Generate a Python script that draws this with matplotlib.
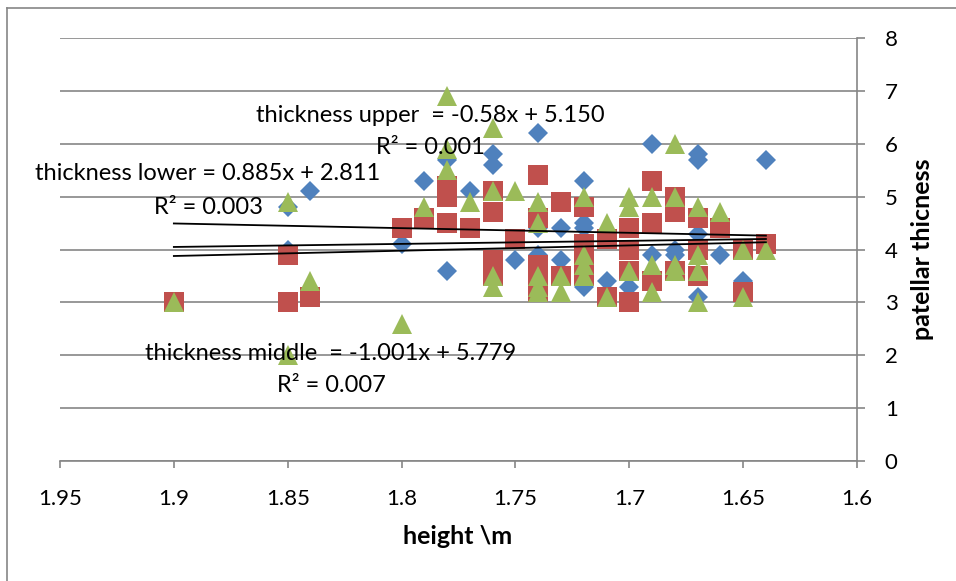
import matplotlib
matplotlib.use("Agg")
from matplotlib import pyplot as plt
from matplotlib.lines import Line2D
import numpy as np

plt.rcParams['font.family'] = ['Lato', 'DejaVu Sans']

# blue diamonds
blue_x = [1.9, 1.85, 1.85, 1.84, 1.8, 1.79, 1.78, 1.78, 1.77, 1.76, 1.76, 1.75,
          1.74, 1.74, 1.74, 1.73, 1.73, 1.72, 1.72, 1.72, 1.72, 1.71, 1.7,
          1.69, 1.69, 1.68, 1.68, 1.67, 1.67, 1.67, 1.67, 1.66, 1.65, 1.64]
blue_y = [3.0, 4.8, 4.0, 5.1, 4.1, 5.3, 5.7, 3.6, 5.1, 5.8, 5.6, 3.8,
          6.2, 4.4, 3.9, 4.4, 3.8, 5.3, 4.5, 4.4, 3.3, 3.4, 3.3,
          6.0, 3.9, 4.0, 3.9, 5.8, 5.7, 4.3, 3.1, 3.9, 3.4, 5.7]

# red squares
red_x = [1.9, 1.85, 1.85, 1.84, 1.8, 1.79, 1.78, 1.78, 1.78, 1.77,
         1.76, 1.76, 1.76, 1.76, 1.75, 1.74, 1.74, 1.74, 1.74, 1.74,
         1.73, 1.73, 1.72, 1.72, 1.72, 1.72, 1.71, 1.71,
         1.7, 1.7, 1.7, 1.7, 1.69, 1.69, 1.69, 1.68, 1.68, 1.68,
         1.67, 1.67, 1.67, 1.66, 1.65, 1.65, 1.64]
red_y = [3.0, 3.9, 3.0, 3.1, 4.4, 4.6, 5.2, 5.0, 4.5, 4.4,
         5.1, 4.7, 3.8, 3.5, 4.2, 5.4, 4.6, 3.7, 3.5, 3.2,
         4.9, 3.5, 4.8, 4.1, 3.8, 3.5, 4.2, 3.1,
         4.4, 4.0, 3.6, 3.0, 5.3, 4.5, 3.4, 5.0, 4.7, 3.6,
         4.6, 4.0, 3.5, 4.4, 4.0, 3.2, 4.1]

# green triangles
green_x = [1.9, 1.85, 1.85, 1.84, 1.8, 1.79, 1.78, 1.78, 1.78, 1.77,
           1.76, 1.76, 1.76, 1.76, 1.75, 1.74, 1.74, 1.74, 1.74, 1.74,
           1.73, 1.73, 1.72, 1.72, 1.72, 1.72, 1.71, 1.71,
           1.7, 1.7, 1.7, 1.69, 1.69, 1.69, 1.68, 1.68, 1.68, 1.68,
           1.67, 1.67, 1.67, 1.67, 1.66, 1.65, 1.65, 1.64]
green_y = [3.0, 4.9, 2.0, 3.4, 2.6, 4.8, 6.9, 5.9, 5.5, 4.9,
           6.3, 5.1, 3.5, 3.3, 5.1, 4.9, 4.5, 3.5, 3.3, 3.2,
           3.5, 3.2, 5.0, 3.9, 3.7, 3.5, 4.5, 3.1,
           5.0, 4.8, 3.6, 5.0, 3.7, 3.2, 6.0, 5.0, 3.7, 3.6,
           4.8, 3.9, 3.6, 3.0, 4.7, 4.0, 3.1, 4.0]

# trendlines (slope, intercept, r2) as labelled in the chart
trend_names = ["thickness upper ", "thickness lower", "thickness middle "]
trend_slope = [-0.58, 0.885, -1.001]
trend_icept = [5.150, 2.811, 5.779]
trend_r2 = ["0.001", "0.003", "0.007"]
trend_range = [1.9, 1.64]

x_ticks = [1.95, 1.9, 1.85, 1.8, 1.75, 1.7, 1.65, 1.6]
x_labels = ["1.95", "1.9", "1.85", "1.8", "1.75", "1.7", "1.65", "1.6"]
y_ticks = [0, 1, 2, 3, 4, 5, 6, 7, 8]

W, H = 956, 581
grid_col = '#868686'

fig = plt.figure(figsize=(W / 100, H / 100), dpi=100)
ax = fig.add_axes([60 / W, 1 - 461 / H, 797 / W, 423 / H])

ax.plot(blue_x, blue_y, 'D', color='#4F81BD', ms=9.8, mew=0, zorder=3)
ax.plot(red_x, red_y, 's', color='#C0504D', ms=14, mew=0, zorder=4)
ax.plot(green_x, green_y, '^', color='#9BBB59', ms=14, mew=0, zorder=5)

xs = np.array(trend_range)
for m, b in zip(trend_slope, trend_icept):
    ax.plot(xs, m * xs + b, color='black', lw=1.3, zorder=6)

ax.set_xlim(1.95, 1.6)
ax.set_ylim(0, 8)
ax.set_xticks(x_ticks)
ax.set_xticklabels(x_labels)
ax.set_yticks(y_ticks)
ax.yaxis.tick_right()

for s in ['left', 'top']:
    ax.spines[s].set_visible(False)
for s in ['right', 'bottom']:
    ax.spines[s].set_color(grid_col)
    ax.spines[s].set_linewidth(1.2)

ax.yaxis.grid(True, color=grid_col, lw=1.2)
ax.set_axisbelow(True)
ax.tick_params(axis='x', direction='out', length=5, width=1.2, color=grid_col,
               labelsize=16, pad=15)
ax.tick_params(axis='y', direction='out', length=6, width=1.2, color=grid_col,
               labelsize=16, pad=14)

# axis titles
fig.text(458 / W, 1 - 536 / H, "height \\m", ha='center', va='center',
         fontsize=18, fontweight='bold')
fig.text(922 / W, 1 - 249 / H, "patellar thicness", ha='center', va='center',
         rotation=90, fontsize=18, fontweight='bold')

# trendline labels (pixel centres)
label_pos = [(430, 116, 148), (208, 173, 207), (331, 353, 386)]
for name, m, b, r2, (cx, y1, y2) in zip(trend_names, trend_slope, trend_icept,
                                         trend_r2, label_pos):
    eq = f"{name} = {m:g}x + {b:.3f}"
    fig.text(cx / W, 1 - y1 / H, eq, ha='center', va='center', fontsize=17,
             zorder=10)
    fig.text(cx / W, 1 - y2 / H, f"R² = {r2}", ha='center', va='center',
             fontsize=17, zorder=10)

# chart area border
fig.add_artist(Line2D([7 / W, 1], [1 - 8 / H, 1 - 8 / H], color=grid_col, lw=1.2))
fig.add_artist(Line2D([7 / W, 7 / W], [0, 1 - 8 / H], color=grid_col, lw=1.2))

fig.savefig("out.png", dpi=100)
